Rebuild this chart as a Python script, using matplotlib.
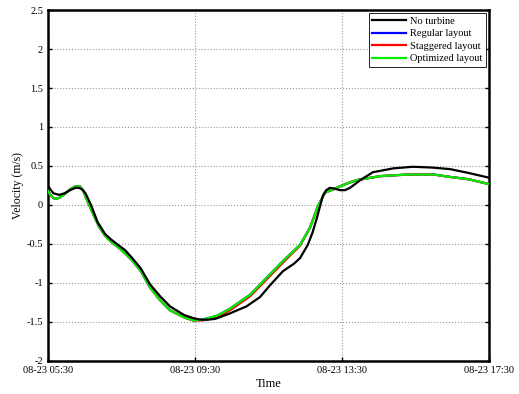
import matplotlib as mpl
mpl.use('Agg')
import matplotlib.pyplot as plt
import matplotlib.dates as mdates
import numpy as np
import datetime as dt

# Velocity; time in hours after 08-23 05:30
t_black = [0.00, 0.08, 0.15, 0.30, 0.45, 0.60, 0.75, 0.84, 0.93, 1.02, 1.17, 1.35, 1.55,
           1.71, 1.93, 2.10, 2.29, 2.52, 2.78, 3.05, 3.32, 3.70, 3.95, 4.14, 4.35, 4.55,
           4.95, 5.40, 5.77, 6.04, 6.39, 6.70, 6.86, 7.07, 7.20, 7.32, 7.40, 7.48, 7.57,
           7.67, 7.80, 7.95, 8.08, 8.22, 8.50, 8.84, 9.40, 9.93, 10.45, 10.94, 11.45, 12.00]
v_black = [0.245, 0.19, 0.15, 0.13, 0.15, 0.19, 0.22, 0.22, 0.20, 0.15, 0.00, -0.22, -0.37,
           -0.44, -0.52, -0.58, -0.68, -0.81, -1.02, -1.17, -1.30, -1.41, -1.45, -1.47, -1.47, -1.46,
           -1.39, -1.30, -1.18, -1.03, -0.85, -0.75, -0.68, -0.51, -0.35, -0.16, -0.02, 0.12, 0.19,
           0.22, 0.21, 0.19, 0.19, 0.22, 0.32, 0.42, 0.47, 0.49, 0.48, 0.46, 0.41, 0.35]

t_opt = [0.00, 0.08, 0.18, 0.30, 0.45, 0.60, 0.75, 0.86, 0.95, 1.12, 1.39, 1.55, 1.69,
         1.93, 2.10, 2.29, 2.53, 2.78, 3.05, 3.32, 3.70, 3.95, 4.20, 4.60, 4.95, 5.50,
         5.77, 6.04, 6.39, 6.86, 7.13, 7.35, 7.54, 7.76, 8.00, 8.22, 8.41, 9.04, 9.77,
         10.5, 10.94, 11.45, 11.89, 12.00]
v_opt = [0.18, 0.12, 0.08, 0.09, 0.14, 0.20, 0.24, 0.24, 0.19, 0.00, -0.28, -0.39, -0.46,
         -0.55, -0.62, -0.71, -0.85, -1.06, -1.22, -1.35, -1.44, -1.48, -1.47, -1.42, -1.33, -1.15,
         -1.02, -0.89, -0.72, -0.51, -0.29, -0.01, 0.16, 0.20, 0.25, 0.29, 0.32, 0.37, 0.39,
         0.39, 0.36, 0.33, 0.28, 0.27]

v_reg = list(v_opt)
v_stag = [0.18, 0.12, 0.08, 0.09, 0.14, 0.20, 0.24, 0.24, 0.19, 0.00, -0.28, -0.39, -0.46,
          -0.55, -0.62, -0.71, -0.85, -1.06, -1.22, -1.35, -1.44, -1.48, -1.48, -1.44, -1.35, -1.17,
          -1.04, -0.91, -0.74, -0.52, -0.29, -0.01, 0.16, 0.20, 0.25, 0.29, 0.32, 0.37, 0.39,
          0.39, 0.36, 0.33, 0.28, 0.27]

start = dt.datetime(2013, 8, 23, 5, 30)
def to_time(hours):
    return [start + dt.timedelta(hours=h) for h in hours]

plt.rcParams['font.family'] = 'Liberation Serif'

fig = plt.figure(figsize=(5.19, 3.94), dpi=100)
ax = fig.add_axes([0.0925, 0.0838, 0.8497, 0.8908])

ax.plot(to_time(t_opt), v_reg, color='#0000ff', lw=1.6, label='Regular layout', zorder=3)
ax.plot(to_time(t_opt), v_stag, color='#ff0000', lw=1.6, label='Staggered layout', zorder=3)
ax.plot(to_time(t_opt), v_opt, color='#00ee00', lw=1.6, label='Optimized layout', zorder=4)
ax.plot(to_time(t_black), v_black, color='black', lw=1.6, label='No turbine', zorder=5)

ax.set_xlim(start, start + dt.timedelta(hours=12))
ax.set_ylim(-2, 2.5)
ax.set_yticks(np.arange(-2, 2.51, 0.5))
ax.set_yticklabels(['-2', '-1.5', '-1', '-0.5', '0', '0.5', '1', '1.5', '2', '2.5'])
ax.set_xticks(to_time([0, 4, 8, 12]))
ax.xaxis.set_major_formatter(mdates.DateFormatter('%m-%d %H:%M'))
ax.tick_params(direction='in', labelsize=7.5, length=3, width=1, top=False, right=True)
ax.grid(True, color='#999999', linestyle=':', linewidth=0.8)
for s in ax.spines.values():
    s.set_linewidth(1.8)

ax.set_xlabel('Time', fontsize=9, labelpad=2)
ax.set_ylabel('Velocity (m/s)', fontsize=8.5, labelpad=2)

h, l = ax.get_legend_handles_labels()
order = [3, 0, 1, 2]
leg = ax.legend([h[i] for i in order], [l[i] for i in order], loc='upper right',
                fontsize=7.5, fancybox=False, edgecolor='black', framealpha=1,
                handlelength=3.2, borderpad=0.35, labelspacing=0.3, handletextpad=0.4,
                borderaxespad=0.3)
leg.get_frame().set_linewidth(0.6)

fig.savefig('out.png', dpi=100)
